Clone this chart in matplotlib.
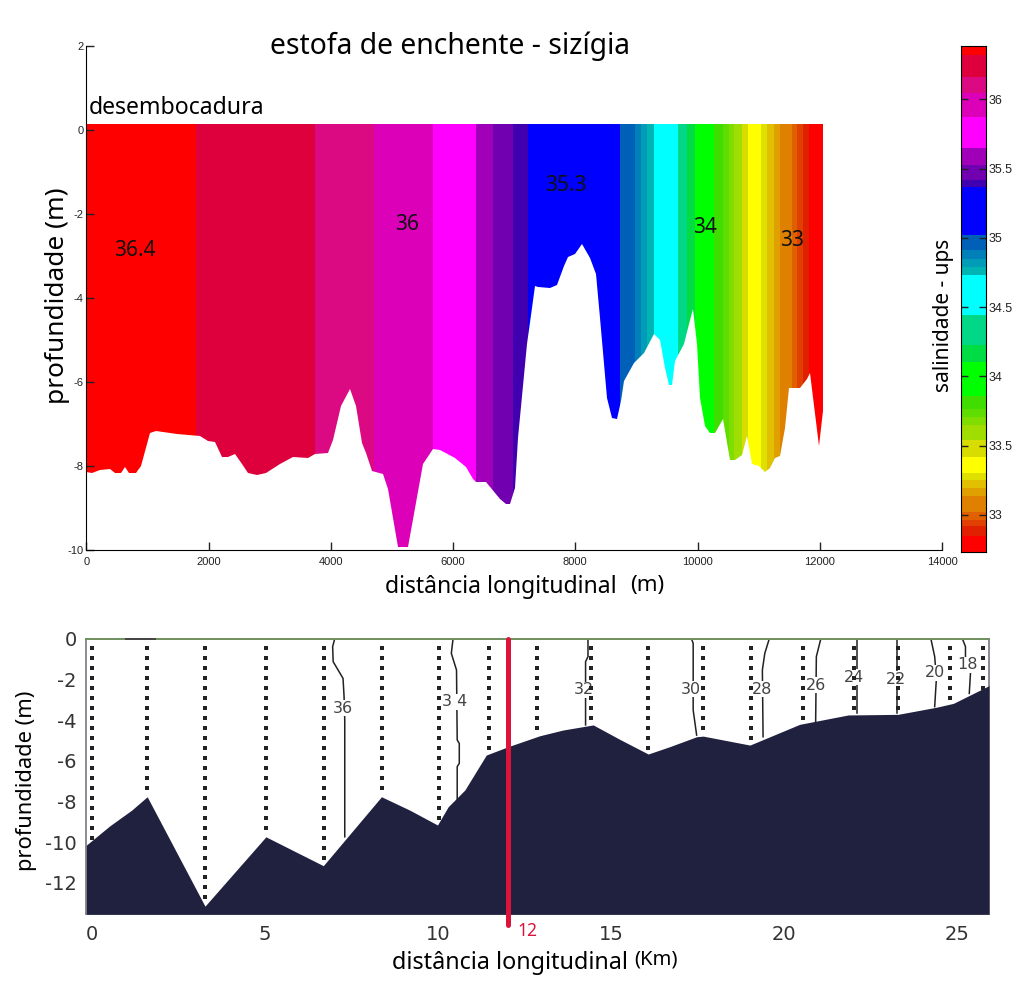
import numpy as np
import matplotlib
matplotlib.use('Agg')
import matplotlib.pyplot as plt
from matplotlib.colors import ListedColormap, BoundaryNorm
from matplotlib.patches import Polygon

plt.rcParams['axes.unicode_minus'] = False

W, H = 1024, 983

# ---- top panel: salinity classes (colorbar edges, top to bottom)
sal_edges = [36.385, 36.32, 36.163, 36.043, 35.874, 35.646, 35.526, 35.418, 35.365, 35.021,
             34.913, 34.846, 34.792, 34.732, 34.444, 34.227, 34.107, 33.862,
             33.763, 33.71, 33.65, 33.542, 33.421, 33.306, 33.253, 33.193, 33.138,
             33.025, 32.965, 32.917, 32.85, 32.735]
sal_colors = ['#ff0000', '#de003c', '#dc0a82', '#dc00b8', '#ff00ff', '#a000b8', '#7000b0', '#4000b0', '#0000ff',
              '#0060b8', '#0080b8', '#009cb8', '#00b4b4', '#00ffff', '#00d888', '#00dd44', '#00ff00',
              '#40dd00', '#60dd00', '#80dd00', '#a0dd00', '#d8dd00', '#ffff00', '#e0e000', '#e0c000',
              '#e0a000', '#e08000', '#e06000', '#e04000', '#e02000', '#ff0000']
# where each class ends along the section (m)
section_edges = [0, 1795, 3744, 4700, 5680, 6378, 6661, 6989, 7225, 8724, 8981, 9073, 9172, 9281,
                 9679, 9826, 9963, 10263, 10416, 10508, 10590, 10727, 10819, 11038, 11136,
                 11245, 11343, 11545, 11627, 11725, 11818, 12052]
section_top = 0.14

bed_x = [0, 87, 223, 387, 469, 567, 632, 703, 812, 894, 1041, 1139, 1477, 1858, 1995, 2103, 2212,
         2321, 2430, 2540, 2649, 2785, 2948, 3166, 3384, 3629, 3738, 3956, 4038, 4174, 4321, 4420,
         4518, 4583, 4676, 4856, 4937, 5101, 5264, 5510, 5673, 5782, 6027, 6218, 6327, 6381, 6545,
         6763, 6872, 6938, 7017, 7071, 7207, 7289, 7333, 7398, 7589, 7699, 7808, 7889, 7999, 8108,
         8244, 8342, 8408, 8517, 8599, 8681, 8746, 8801, 8953, 9117, 9281, 9379, 9472, 9526, 9581,
         9635, 9772, 9854, 9919, 9990, 10045, 10126, 10208, 10290, 10415, 10525, 10617, 10727, 10808,
         10890, 11000, 11109, 11190, 11272, 11343, 11436, 11491, 11682, 11790, 11834, 11982, 12052]
bed_y = [-8.14, -8.17, -8.09, -8.08, -8.17, -8.16, -8.02, -8.16, -8.17, -8.0, -7.21, -7.16, -7.24,
         -7.28, -7.41, -7.43, -7.78, -7.78, -7.71, -7.96, -8.17, -8.22, -8.17, -7.96, -7.79, -7.8,
         -7.72, -7.68, -7.37, -6.58, -6.17, -6.58, -7.45, -7.68, -8.13, -8.2, -8.55, -9.93, -9.93,
         -7.96, -7.59, -7.61, -7.8, -8.02, -8.31, -8.37, -8.37, -8.79, -8.91, -8.91, -8.52, -7.33,
         -5.1, -4.23, -3.72, -3.74, -3.76, -3.68, -3.24, -3.03, -2.96, -2.72, -3.04, -3.44, -4.47,
         -6.38, -6.85, -6.89, -6.46, -5.98, -5.54, -5.3, -4.85, -4.99, -5.66, -6.06, -6.06, -5.5,
         -5.1, -4.63, -4.25, -5.1, -6.38, -7.05, -7.21, -7.21, -6.89, -7.85, -7.85, -7.73, -7.29,
         -7.96, -8.0, -8.14, -8.04, -7.8, -7.77, -7.09, -6.15, -6.15, -5.94, -5.78, -7.53, -6.69]

section_labels = ['36.4', '36', '35.3', '34', '33']
section_label_x = [800, 5240, 7850, 10130, 11550]
section_label_y = [-2.87, -2.25, -1.31, -2.31, -2.62]

cbar_ticks = [33, 33.5, 34, 34.5, 35, 35.5, 36]

# ---- bottom panel: estuary section
km_bed_x = [-0.16, 0.52, 1.15, 1.6, 3.27, 5.03, 6.69, 8.37, 9.19, 9.99, 10.3, 10.78, 11.4, 12.03,
            12.95, 13.62, 14.49, 15.26, 16.08, 16.7, 17.48, 17.67, 19.02, 20.46, 21.86, 23.3,
            24.41, 24.9, 25.93]
km_bed_y = [-10.15, -9.2, -8.43, -7.77, -13.15, -9.74, -11.16, -7.77, -8.43, -9.16, -8.26, -7.44,
            -5.72, -5.31, -4.77, -4.49, -4.24, -4.95, -5.67, -5.31, -4.82, -4.79, -5.23, -4.21,
            -3.75, -3.72, -3.37, -3.18, -2.31]
stations = [0.0, 1.6, 3.26, 5.02, 6.7, 8.4, 10.03, 11.48, 12.87, 14.42, 16.08, 17.67, 19.05,
            20.56, 22.03, 23.29, 24.8, 25.76]

iso_36_x = [7.02, 6.96, 6.975, 7.26, 7.29, 7.31, 7.31]
iso_36_y = [0, -0.39, -1.13, -1.95, -2.85, -4, -9.74]
iso_34_x = [10.44, 10.39, 10.54, 10.56, 10.62, 10.62, 10.56, 10.56]
iso_34_y = [0, -0.72, -1.54, -4.98, -5.15, -6.13, -6.29, -7.93]
iso_32_x = [14.34, 14.34, 14.27, 14.27]
iso_32_y = [0, -0.88, -1.13, -4.24]
iso_30_x = [17.33, 17.38, 17.38, 17.48]
iso_30_y = [0, -0.23, -3.51, -4.74]
iso_28_x = [19.58, 19.45, 19.38, 19.4]
iso_28_y = [0, -0.72, -1.54, -4.82]
iso_26_x = [21.07, 20.94, 20.92]
iso_26_y = [0, -0.88, -4.08]
iso_24_x = [22.12, 22.12]
iso_24_y = [0, -3.67]
iso_22_x = [23.28, 23.28]
iso_22_y = [0, -3.67]
iso_20_x = [24.25, 24.36, 24.41, 24.36]
iso_20_y = [0, -0.88, -1.95, -3.34]
iso_18_x = [25.16, 25.25, 25.25, 25.4, 25.36]
iso_18_y = [0, -0.39, -0.88, -1.54, -2.69]

iso_labels = ['36', '3 4', '32', '30', '28', '26', '24', '22', '20', '18']
iso_label_x = [7.26, 10.49, 14.22, 17.3, 19.38, 20.92, 22.02, 23.24, 24.36, 25.31]
iso_label_y = [-3.42, -3.1, -2.52, -2.49, -2.49, -2.28, -1.9, -2.0, -1.67, -1.29]

RED = '#dc143c'
NAVY = '#20213f'
FONT = 'Noto Sans'
TICKFONT = 'Liberation Sans'


def axes_px(fig, left, top, right, bottom):
    return fig.add_axes([left / W, 1 - bottom / H, (right - left) / W, (bottom - top) / H])


def fig_text(fig, x, y, s, **kw):
    kw.setdefault('family', FONT)
    kw.setdefault('ha', 'center')
    kw.setdefault('va', 'center')
    return fig.text(x / W, 1 - y / H, s, **kw)


fig = plt.figure(figsize=(W / 100, H / 100), dpi=100)

# ------------------------------------------------------------------ #
#  Salinity section                                                   #
# ------------------------------------------------------------------ #
ax = axes_px(fig, 86.3, 46, 942, 550)
cmap = ListedColormap(sal_colors[::-1])
norm = BoundaryNorm(sal_edges[::-1], cmap.N)
mids = [(a + b) / 2 for a, b in zip(sal_edges[:-1], sal_edges[1:])]

mesh = ax.pcolormesh(section_edges, [-10, section_top], [mids], cmap=cmap, norm=norm,
                     antialiased=False)
outline = list(zip(bed_x, bed_y)) + [(section_edges[-1], section_top), (0, section_top)]
clip = Polygon(outline, closed=True, transform=ax.transData, fc='none', ec='none')
ax.add_patch(clip)
mesh.set_clip_path(clip)

ax.set_xlim(0, 14000)
ax.set_ylim(-10, 2)
ax.set_xticks(np.arange(0, 14001, 2000))
ax.set_yticks(np.arange(-10, 3, 2))
ax.tick_params(direction='in', length=6, width=1, labelsize=8, pad=2, colors='#222222')
ax.tick_params(axis='x', pad=5)
for lab in ax.get_xticklabels() + ax.get_yticklabels():
    lab.set_family(TICKFONT)
ax.spines['top'].set_visible(False)
ax.spines['right'].set_visible(False)

for s, x, y in zip(section_labels, section_label_x, section_label_y):
    ax.text(x, y, s, ha='center', va='center', fontsize=15, family=FONT, color='#111111')

fig_text(fig, 450, 46, 'estofa de enchente - sizígia', fontsize=20.4)
fig_text(fig, 177, 108, 'desembocadura', fontsize=16.6)
fig_text(fig, 58, 296, 'profundidade (m)', fontsize=18.9, rotation=90)
fig_text(fig, 501, 587, 'distância longitudinal', fontsize=16.5)
fig_text(fig, 647, 585, '(m)', fontsize=16)
fig_text(fig, 944, 315, 'salinidade - ups', fontsize=15, rotation=90)

# colorbar
cax = axes_px(fig, 961.3, 46, 986, 551.7)
cax.pcolormesh([0, 1], sal_edges[::-1], np.array(mids[::-1])[:, None], cmap=cmap, norm=norm,
               antialiased=False)
cax.set_ylim(sal_edges[-1], sal_edges[0])
cax.set_xticks([])
cax.set_yticks(cbar_ticks)
cax.set_yticklabels(['33', '33.5', '34', '34.5', '35', '35.5', '36'], family=TICKFONT)
cax.tick_params(axis='y', direction='in', left=True, right=True, labelleft=False, labelright=True,
                length=5, width=1, labelsize=9, pad=2, colors='#222222')

# ------------------------------------------------------------------ #
#  Estuary section                                                    #
# ------------------------------------------------------------------ #
ax2 = axes_px(fig, 86.3, 638.7, 989, 914.3)
ax2.set_xlim(-0.16, 25.93)
ax2.set_ylim(-13.55, 0)

ax2.fill_between(km_bed_x, km_bed_y, -13.55, color=NAVY, lw=0, zorder=3)

for sx in stations:
    bottom = np.interp(sx, km_bed_x, km_bed_y)
    depths = np.arange(-0.47, bottom, -0.49)
    ax2.plot(np.full(depths.shape, sx), depths, ls='none', marker='s', ms=2.9, mew=0,
             color='#222222', zorder=2.7)

iso_lines = [(iso_36_x, iso_36_y), (iso_34_x, iso_34_y), (iso_32_x, iso_32_y), (iso_30_x, iso_30_y),
             (iso_28_x, iso_28_y), (iso_26_x, iso_26_y), (iso_24_x, iso_24_y), (iso_22_x, iso_22_y),
             (iso_20_x, iso_20_y), (iso_18_x, iso_18_y)]
for xs, ys in iso_lines:
    ax2.plot(xs, ys, color='#222222', lw=1.1, zorder=2)

for s, x, y in zip(iso_labels, iso_label_x, iso_label_y):
    ax2.text(x, y, s, ha='center', va='center', fontsize=11.5, color='#444444', zorder=2.5,
             bbox=dict(fc='white', ec='none', pad=0.4))

ax2.plot([1.0, 1.82], [0, 0], color='#444444', lw=1.4, zorder=4, clip_on=False)
ax2.plot([12.04, 12.04], [0, -14.1], color=RED, lw=3.6, solid_capstyle='round', clip_on=False, zorder=5)

ax2.set_xticks([0, 5, 10, 15, 20, 25])
ax2.set_yticks([0, -2, -4, -6, -8, -10, -12])
ax2.tick_params(length=0, labelsize=14, labelcolor='#333333', pad=7)
ax2.tick_params(axis='x', pad=8)
ax2.spines['top'].set_color('#6f8f5f')
ax2.spines['top'].set_linewidth(1.4)
for side in ['left', 'right', 'bottom']:
    ax2.spines[side].set_color('#8a8a90')
    ax2.spines[side].set_linewidth(1.4)

fig_text(fig, 527, 931, '12', fontsize=12.5, color=RED)
fig_text(fig, 27, 781, 'profundidade (m)', fontsize=15.7, rotation=90)
fig_text(fig, 510, 963, 'distância longitudinal', fontsize=16.8)
fig_text(fig, 656, 959, '(Km)', fontsize=14.5)

fig.savefig('out.png', dpi=100)
